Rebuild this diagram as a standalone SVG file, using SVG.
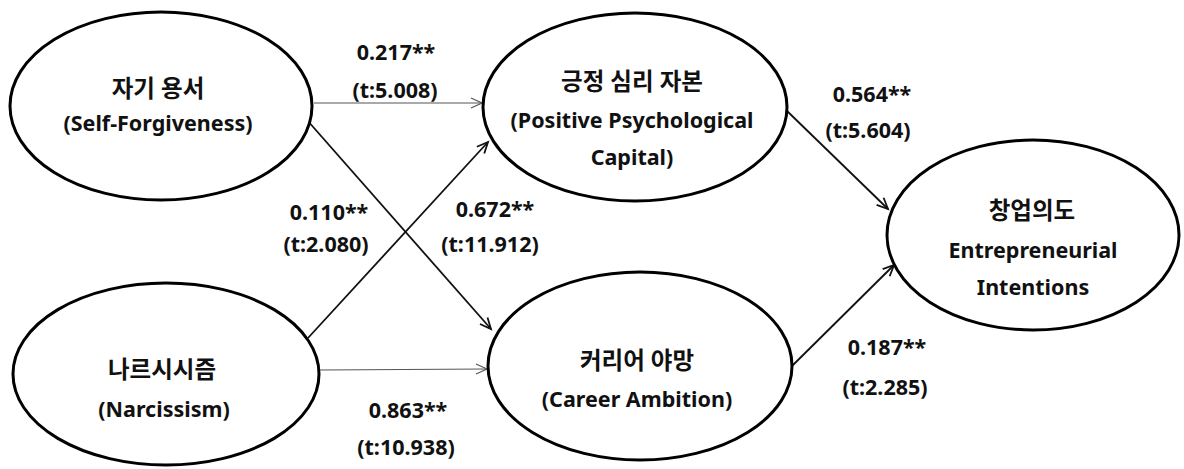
<svg xmlns="http://www.w3.org/2000/svg" width="1184" height="469" viewBox="0 0 1184 469">
<style>
.node ellipse{fill:#fff;stroke:#000;stroke-width:3}
text{font-family:"Noto Sans","Noto Sans CJK KR",sans-serif;font-weight:bold;font-size:21.5px;text-anchor:middle;fill:#111}
text.ko{font-size:23.5px}
.thin{stroke:#555;stroke-width:1.2;fill:none}
.thick{stroke:#111;stroke-width:1.8;fill:none}
</style>
<defs>
<marker id="ag" markerUnits="userSpaceOnUse" markerWidth="16" markerHeight="16" refX="12" refY="6" orient="auto" viewBox="0 0 16 12">
<path d="M1,1 L12,6 L1,11" fill="none" stroke="#555" stroke-width="1.2"/>
</marker>
<marker id="ab" markerUnits="userSpaceOnUse" markerWidth="16" markerHeight="16" refX="12" refY="6" orient="auto" viewBox="0 0 16 12">
<path d="M1,1 L12,6 L1,11" fill="none" stroke="#111" stroke-width="1.8"/>
</marker>
</defs>
<rect width="1184" height="469" fill="#fff"/>
<g id="connectors">
<line class="thin" x1="314" y1="103" x2="482" y2="103" marker-end="url(#ag)"/>
<line class="thick" x1="307" y1="120" x2="491" y2="329" marker-end="url(#ab)"/>
<line class="thick" x1="308" y1="338" x2="488" y2="142" marker-end="url(#ab)"/>
<line class="thin" x1="320" y1="370" x2="487" y2="369" marker-end="url(#ag)"/>
<line class="thick" x1="786" y1="110" x2="888" y2="209" marker-end="url(#ab)"/>
<line class="thick" x1="792" y1="366" x2="894" y2="265" marker-end="url(#ab)"/>
</g>
<g id="labels">
<text x="396" y="60">0.217**</text>
<text x="395" y="98">(t:5.008)</text>
<text x="329" y="220">0.110**</text>
<text x="326" y="252">(t:2.080)</text>
<text x="495" y="217">0.672**</text>
<text x="490" y="252">(t:11.912)</text>
<text x="872" y="102">0.564**</text>
<text x="868" y="138">(t:5.604)</text>
<text x="408" y="418">0.863**</text>
<text x="406" y="455">(t:10.938)</text>
<text x="887" y="355">0.187**</text>
<text x="885" y="395">(t:2.285)</text>
</g>
<g id="self-forgiveness" class="node">
<ellipse cx="161" cy="106" rx="151" ry="94"/>
<text class="ko" x="158" y="97">자기 용서</text>
<text x="158" y="131">(Self-Forgiveness)</text>
</g>
<g id="positive-psychological-capital" class="node">
<ellipse cx="635" cy="107" rx="152" ry="94"/>
<text class="ko" x="632" y="90">긍정 심리 자본</text>
<text x="632" y="128">(Positive Psychological</text>
<text x="632" y="165">Capital)</text>
</g>
<g id="narcissism" class="node">
<ellipse cx="166" cy="374" rx="153" ry="91"/>
<text class="ko" x="162" y="378">나르시시즘</text>
<text x="164" y="417">(Narcissism)</text>
</g>
<g id="career-ambition" class="node">
<ellipse cx="640" cy="366" rx="152" ry="94"/>
<text class="ko" x="637" y="369">커리어 야망</text>
<text x="637" y="407">(Career Ambition)</text>
</g>
<g id="entrepreneurial-intentions" class="node">
<ellipse cx="1033" cy="235" rx="146" ry="95"/>
<text class="ko" x="1032" y="219">창업의도</text>
<text x="1033" y="258">Entrepreneurial</text>
<text x="1033" y="295">Intentions</text>
</g>
</svg>
